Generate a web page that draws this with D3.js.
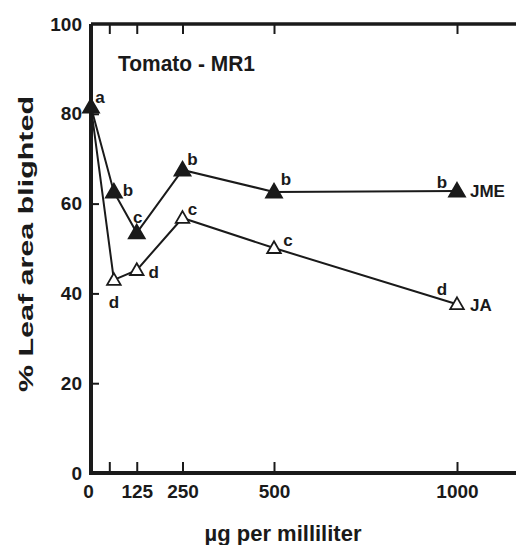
<!DOCTYPE html>
<html>
<head>
<meta charset="utf-8">
<script src="https://cdn.jsdelivr.net/npm/d3@7"></script>
<style>
  body { margin: 0; background: #fff; }
  svg { display: block; }
  text { font-family: "Liberation Sans", Arial, sans-serif; fill: #1a1a1a; }
</style>
</head>
<body>
<div id="chart"></div>
<script>
// concentration (µg per ml)
const doses = [0, 62.5, 125, 250, 500, 1000];
// % leaf area blighted
const jmeValues = [81.5, 62.6, 53.5, 67.5, 62.6, 62.8];
const jaValues = [81.5, 43, 45.2, 56.8, 50.1, 37.6];
// significance letters (null = no letter)
const jmeLetters = ['a', 'b', 'c', 'b', 'b', 'b'];
const jaLetters = [null, 'd', 'd', 'c', 'c', 'd'];
const xTicks = [0, 50, 125, 250, 500, 1000];
const xTickLabels = ['0', '', '125', '250', '500', '1000'];
const yTicks = [0, 20, 40, 60, 80, 100];

// letter offsets from each point, in px
const jmeLetterOffsets = [[9, -10], [14, -2], [1, -16], [10, -11], [12, -13], [-15, -9]];
const jaLetterOffsets = [null, [0, 22], [17, 2], [10, -9], [14, -8], [-15, -15]];

const W = 516, H = 545;
const x0 = 91, yBottom = 473, yTop = 24;

const svg = d3.select('#chart').append('svg')
  .attr('width', W)
  .attr('height', H);

const x = d3.scaleLinear().domain([0, 1000]).range([x0, 457]);
const y = d3.scaleLinear().domain([0, 100]).range([yBottom, yTop]);

// axes
const xAxis = d3.axisBottom(x)
  .tickValues(xTicks)
  .tickFormat((d, i) => xTickLabels[i])
  .tickSizeInner(-11)
  .tickSizeOuter(0)
  .tickPadding(8);

const gx = svg.append('g')
  .attr('transform', `translate(0,${yBottom})`)
  .call(xAxis);
gx.select('.domain').remove();
gx.selectAll('.tick line').attr('stroke', '#1a1a1a').attr('stroke-width', 2)
  .filter(d => d === 0).remove();
gx.selectAll('.tick text')
  .attr('font-size', 19)
  .attr('dy', '0.9em')
  .attr('dx', d => d === 0 ? -3 : 0);

const xTop = d3.axisTop(x)
  .tickValues(xTicks.filter(d => d > 0))
  .tickFormat('')
  .tickSizeInner(-10)
  .tickSizeOuter(0);
const gt = svg.append('g')
  .attr('transform', `translate(0,${yTop})`)
  .call(xTop);
gt.select('.domain').remove();
gt.selectAll('.tick line').attr('stroke', '#1a1a1a').attr('stroke-width', 2);

const yAxis = d3.axisLeft(y)
  .tickValues(yTicks)
  .tickSizeInner(-8)
  .tickSizeOuter(0)
  .tickPadding(7);
const gy = svg.append('g')
  .attr('transform', `translate(${x0},0)`)
  .call(yAxis);
gy.select('.domain').remove();
gy.selectAll('.tick line').attr('stroke', '#1a1a1a').attr('stroke-width', 2)
  .filter(d => d === 0 || d === 100).remove();
gy.selectAll('.tick text').attr('font-size', 19).attr('dx', -2);

svg.selectAll('.tick text').attr('font-weight', 'bold').attr('fill', '#1a1a1a');

// frame lines
svg.append('path')
  .attr('d', `M${x0},${yTop}V${yBottom}H${W}`)
  .attr('fill', 'none')
  .attr('stroke', '#1a1a1a')
  .attr('stroke-width', 4);
svg.append('line')
  .attr('x1', x0).attr('x2', W)
  .attr('y1', yTop).attr('y2', yTop)
  .attr('stroke', '#1a1a1a')
  .attr('stroke-width', 3.5);

// axis titles
svg.append('text')
  .attr('x', 283).attr('y', 541)
  .attr('text-anchor', 'middle')
  .attr('font-size', 22)
  .attr('font-weight', 'bold')
  .text('µg per milliliter');

svg.append('text')
  .attr('transform', 'translate(33,244) rotate(-90)')
  .attr('text-anchor', 'middle')
  .attr('font-size', 20)
  .attr('font-weight', 'bold')
  .attr('textLength', 296)
  .attr('lengthAdjust', 'spacingAndGlyphs')
  .text('% Leaf area blighted');

svg.append('text')
  .attr('x', 118).attr('y', 71)
  .attr('font-size', 22)
  .attr('font-weight', 'bold')
  .attr('textLength', 137)
  .attr('lengthAdjust', 'spacingAndGlyphs')
  .text('Tomato - MR1');

// series
const line = d3.line().x(d => x(d[0])).y(d => y(d[1]));
const tri = d3.symbol().type(d3.symbolTriangle);

function drawSeries(values, letters, offsets, filled, name, nameDy) {
  const pts = doses.map((d, i) => [d, values[i]]);
  svg.append('path')
    .datum(pts)
    .attr('d', line)
    .attr('fill', 'none')
    .attr('stroke', '#1a1a1a')
    .attr('stroke-width', 2);

  svg.selectAll(null)
    .data(pts.filter(d => d[0] > 0 || filled))
    .enter()
    .append('path')
    .attr('transform', d => `translate(${x(d[0])},${y(d[1]) + 1})`)
    .attr('d', tri.size(filled ? 110 : 80))
    .attr('fill', filled ? '#1a1a1a' : '#fff')
    .attr('stroke', '#1a1a1a')
    .attr('stroke-width', 1.8);

  svg.selectAll(null)
    .data(pts.map((d, i) => ({ p: d, l: letters[i], o: offsets[i] })).filter(d => d.l))
    .enter()
    .append('text')
    .attr('x', d => x(d.p[0]) + d.o[0])
    .attr('y', d => y(d.p[1]) + d.o[1])
    .attr('dy', '0.35em')
    .attr('text-anchor', 'middle')
    .attr('font-size', 17)
    .attr('font-weight', 'bold')
    .text(d => d.l);

  const last = pts[pts.length - 1];
  svg.append('text')
    .attr('x', x(last[0]) + 13)
    .attr('y', y(last[1]) + nameDy)
    .attr('dy', '0.35em')
    .attr('font-size', 17)
    .attr('font-weight', 'bold')
    .text(name);
}

drawSeries(jaValues, jaLetters, jaLetterOffsets, false, 'JA', 1);
drawSeries(jmeValues, jmeLetters, jmeLetterOffsets, true, 'JME', 0);
</script>
</body>
</html>
